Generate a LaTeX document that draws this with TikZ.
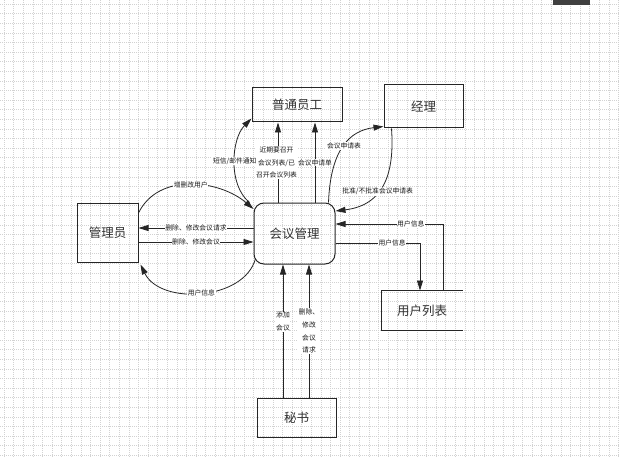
\documentclass[tikz,border=0pt]{standalone}
\usepackage{fontspec}
\newfontfamily\cjk{Noto Sans CJK SC}
\usetikzlibrary{arrows.meta,calc}
\begin{document}
\begin{tikzpicture}[x=1pt,y=-1pt,
  box/.style={draw=black!85, line width=1pt, font=\cjk\fontsize{12.5}{14}\selectfont, text=black!80, inner sep=0pt},
  lbl/.style={fill=white, inner sep=0.6pt, font=\cjk\fontsize{6.8}{12.8}\selectfont, text=black!90, align=center},
  arr/.style={draw=black!85, line width=0.8pt, -{Triangle[length=10pt,width=6pt]}},
  gridc/.style={draw=gray!35, line width=0.4pt, dash pattern=on 1pt off 1pt},
]
\useasboundingbox (0,0) rectangle (620,457);
\fill[white] (0,0) rectangle (620,457);
\foreach \i in {0,...,64} \draw[gridc] ({\i*9.6+4},0) -- ({\i*9.6+4},457);
\foreach \j in {0,...,47} \draw[gridc] (0,{\j*9.6+4}) -- (620,{\j*9.6+4});
\fill[black!75] (553,0) rectangle (590,5);

\node[box, minimum width=90, minimum height=34] (ptyg) at (297,105) {普通员工};
\node[box, minimum width=79, minimum height=43] (jl) at (423.5,106.5) {经理};
\node[box, minimum width=61, minimum height=59] (gly) at (107.5,232.5) {管理员};
\node[box, rounded corners=10pt, minimum width=81, minimum height=61] (hy) at (294.5,233.5) {会议管理};
\node[box, draw=none, minimum width=80, minimum height=39] (yhlb) at (422,310.5) {用户列表};
\draw[line width=1pt, draw=black!85] (yhlb.north east) -- (yhlb.north west) -- (yhlb.south west) -- (yhlb.south east);
\node[box, minimum width=79, minimum height=39] (ms) at (296.5,417.5) {秘书};

% to 普通员工
\draw[arr] ([xshift=-16.5pt]hy.north) -- ([xshift=-16.5pt]hy.north |- ptyg.south) node[lbl, midway, xshift=-1.5pt] {近期要召开\\会议列表/已\\召开会议列表};
\draw[arr] ([xshift=20.5pt]hy.north) -- ([xshift=20.5pt]hy.north |- ptyg.south) node[lbl, midway] {会议申请单};
\draw[arr] ([xshift=-4pt]hy.north west) .. controls +(-22,-18) and +(-20,20) .. ([yshift=4pt]ptyg.south west) node[lbl, midway] {短信/邮件通知};

% 管理员
\draw[arr] ([yshift=19.5pt]gly.east) .. controls +(20,-41) and +(-34,-29) .. ([yshift=24.5pt]hy.west) node[lbl, midway] {增删改用户};
\draw[arr] ([yshift=5.5pt]hy.west) -- ([yshift=5.5pt]hy.west -| gly.east) node[lbl, midway] {删除、修改会议请求};
\draw[arr] ([yshift=-8.5pt]hy.west -| gly.east) -- ([yshift=-8.5pt]hy.west) node[lbl, midway] {删除、修改会议};
\draw[arr] ([xshift=2pt,yshift=6pt]hy.south west) .. controls +(-11,42) and +(20,41) .. ([xshift=2pt,yshift=-2pt]gly.south east) node[lbl, midway] {用户信息};

% 用户列表
\draw[arr] ([xshift=21pt]yhlb.north) |- ([yshift=9.5pt]hy.east) node[lbl, pos=0.65] {用户信息};
\draw[arr] ([yshift=-9.5pt]hy.east) -| ([xshift=-2pt]yhlb.north) node[lbl, pos=0.335] {用户信息};

% 经理
\draw[arr] ([xshift=-7pt]hy.north east) .. controls +(2,-53) and +(-34,4) .. ([yshift=2pt]jl.south west) node[lbl, midway] {会议申请表};
\draw[arr] ([xshift=8pt]jl.south west) .. controls +(3,42) and +(50,-6) .. ([yshift=22.5pt]hy.east) node[lbl, pos=0.6] {批准/不批准会议申请表};

% 秘书
\draw[arr] ([xshift=-11.5pt]hy.south |- ms.north) -- ([xshift=-11.5pt]hy.south) node[lbl, pos=0.57] {添加\\会议};
\draw[arr] ([xshift=14.5pt]hy.south |- ms.north) -- ([xshift=14.5pt]hy.south) node[lbl, midway] {删除、\\修改\\会议\\请求};
\end{tikzpicture}
\end{document}
